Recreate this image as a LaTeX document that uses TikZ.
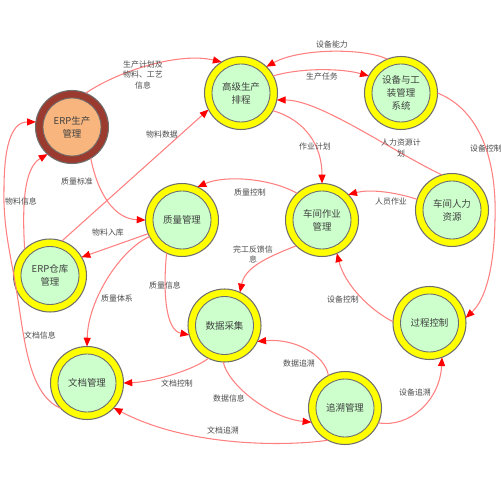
\documentclass[tikz,border=0pt]{standalone}
\usepackage{fontspec}
\newfontfamily\cjk{Noto Sans CJK SC}
\usetikzlibrary{arrows.meta}
\newcommand\nodefont{\cjk\fontsize{5.4pt}{7.4pt}\selectfont}
\newcommand\lblfont{\cjk\fontsize{4.5pt}{5.7pt}\selectfont}
\definecolor{innergreen}{RGB}{204,255,204}
\definecolor{ringyellow}{RGB}{255,255,0}
\definecolor{erpbrown}{RGB}{155,58,46}
\definecolor{erporange}{RGB}{248,182,126}
\definecolor{linered}{RGB}{255,128,128}
\definecolor{ringgray}{RGB}{110,110,110}
\tikzset{
  basering/.style={circle, draw=ringgray, line width=0.6pt, minimum size=1.46cm,
    inner sep=0pt, outer sep=0pt, align=center, text=black!75, font=\nodefont},
  ring/.style={basering, fill=ringyellow,
    path picture={\draw[draw=ringgray, line width=0.5pt, fill=innergreen]
      (path picture bounding box.center) circle (0.58cm);}},
  erpring/.style={basering, fill=erpbrown,
    path picture={\draw[draw=ringgray, line width=0.5pt, fill=erporange]
      (path picture bounding box.center) circle (0.58cm);}},
  flow/.style={draw=linered, line width=0.6pt,
    -{Triangle[length=5pt,width=4pt,color=red,fill=red]}},
  lbl/.style={font=\lblfont, text=black!70, align=center, inner sep=0pt}
}
\begin{document}
\begin{tikzpicture}[x=0.02cm,y=-0.02cm]
\fill[white] (0,0) rectangle (500,500);
\useasboundingbox (0,0) rectangle (500,500);
% nodes
\node[erpring] (erp) at (72,127) {ERP生产\\管理};
\node[ring] (aps) at (241,93) {高级生产\\排程};
\node[ring] (eq) at (401,93) {设备与工\\装管理\\系统};
\node[ring] (qm) at (182,220) {质量管理};
\node[ring] (wh) at (50,275.5) {ERP仓库\\管理};
\node[ring] (ws) at (322,220) {车间作业\\管理};
\node[ring] (hr) at (452,210) {车间人力\\资源};
\node[ring] (pc) at (429.5,323) {过程控制};
\node[ring] (dc) at (224.5,325.5) {数据采集};
\node[ring] (doc) at (87,383) {文档管理};
\node[ring] (tr) at (345,408) {追溯管理};
% connectors
\draw[flow] (erp.68) .. controls (120,70) and (180,52) .. (aps.122);
\draw[flow] (wh.71) -- (aps.207);
\draw[flow] (erp.-59) .. controls (98,195) and (115,219) .. (qm.180);
\draw[flow] (qm.202) -- (wh.30);
\draw[flow] (wh.134) .. controls (22,205) and (24,168) .. (erp.228);
\draw[flow] (doc.224) .. controls (30,395) and (25,345) .. (18,300)
   .. controls (12,260) and (3,230) .. (4,190)
   .. controls (4,150) and (10,122) .. (erp.172);
\draw[flow] (aps.28) .. controls (300,68) and (340,68) .. (eq.152);
\draw[flow] (eq.112) .. controls (365,48) and (300,48) .. (aps.46);
\draw[flow] (aps.-29) .. controls (305,120) and (322,145) .. (ws.90);
\draw[flow] (hr.106) .. controls (390,150) and (320,100) .. (aps.-11);
\draw[flow] (eq.0) .. controls (480,110) and (497,160) .. (495,220)
   .. controls (494,270) and (485,300) .. (pc.8);
\draw[flow] (hr.163) .. controls (395,192) and (370,189) .. (ws.44);
\draw[flow] (ws.133) .. controls (270,178) and (225,175) .. (qm.65);
\draw[flow] (ws.225) .. controls (265,258) and (245,268) .. (dc.65);
\draw[flow] (pc.178) .. controls (370,310) and (345,285) .. (ws.-66);
\draw[flow] (qm.245) .. controls (163,290) and (165,330) .. (dc.195);
\draw[flow] (qm.207) .. controls (120,250) and (88,300) .. (doc.90);
\draw[flow] (dc.244) .. controls (190,372) and (150,382) .. (doc.0);
\draw[flow] (dc.268) .. controls (228,385) and (270,418) .. (tr.203);
\draw[flow] (tr.117) .. controls (325,355) and (295,338) .. (dc.-26);
\draw[flow] (tr.-24) .. controls (410,428) and (440,400) .. (pc.-70);
\draw[flow] (tr.242) .. controls (290,446) and (190,448) .. (doc.-43);
% labels
\node[lbl] (l1) at (143,75) {生产计划及\\物料、工艺\\信息};
\node[lbl] (l2) at (162,135) {物料数据};
\node[lbl] (l3) at (77,181) {质量标准};
\node[lbl] (l4) at (108,233) {物料入库};
\node[lbl] (l5) at (21,201) {物料信息};
\node[lbl] (l6) at (40,335) {文档信息};
\node[lbl] (l7) at (322,77) {生产任务};
\node[lbl] (l8) at (332,44) {设备能力};
\node[lbl] (l9) at (315,146) {作业计划};
\node[lbl] (l10) at (401,148) {人力资源计\\划};
\node[lbl] (l11) at (486,148) {设备控制};
\node[lbl] (l12) at (391,202) {人员作业};
\node[lbl] (l13) at (250,192) {质量控制};
\node[lbl] (l14) at (253,254) {完工反馈信\\息};
\node[lbl] (l15) at (343,299) {设备控制};
\node[lbl] (l16) at (165,285) {质量信息};
\node[lbl] (l17) at (117,299) {质量体系};
\node[lbl] (l18) at (177,383) {文档控制};
\node[lbl] (l19) at (229,398) {数据信息};
\node[lbl] (l20) at (299,363) {数据追溯};
\node[lbl] (l21) at (415,392) {设备追溯};
\node[lbl] (l22) at (223,430) {文档追溯};
\end{tikzpicture}
\end{document}
